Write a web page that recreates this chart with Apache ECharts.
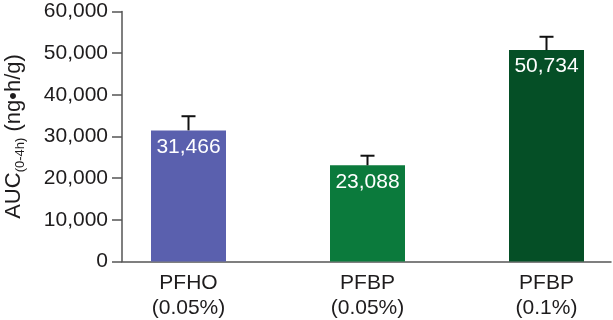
<!DOCTYPE html>
<html>
<head>
<meta charset="utf-8">
<script src="https://cdn.jsdelivr.net/npm/echarts@6/dist/echarts.min.js"></script>
<style>
	html, body { margin: 0; padding: 0; background: #fff; }
	#main { width: 613px; height: 320px; }
</style>
</head>
<body>
<div id="main"></div>
<script>
var categories = ['PFHO\n(0.05%)', 'PFBP\n(0.05%)', 'PFBP\n(0.1%)']
var aucValues = [31466, 23088, 50734]
var aucErrors = [3400, 2300, 3200]
var barColors = ['#5a60ae', '#0b7a3c', '#054f26']
var yTicks = { min: 0, max: 60000, interval: 10000 }

var font = 'Liberation Sans'
var textColor = '#1e1c1d'
var axisColor = '#555'

function fmt(v) {
	return Number(v).toLocaleString('en-US')
}

function drawAucChart(chartDom) {
	var myChart = echarts.init(chartDom)

	var barData = aucValues.map(function (v, i) {
		return { value: v, itemStyle: { color: barColors[i] } }
	})
	var errData = aucValues.map(function (v, i) {
		return [i, v, v + aucErrors[i]]
	})

	var option = {
		animation: false,
		grid: [
			// frame with the visible axes
			{ left: 122, right: 2, top: 11.5, bottom: 58.5, outerBoundsMode: 'none', containLabel: false },
			// bars sit in a wider grid so the category spacing matches
			{ left: 99, width: 537, top: 11.5, bottom: 58.5, outerBoundsMode: 'none', containLabel: false },
		],
		xAxis: [
			{
				gridIndex: 0,
				type: 'value',
				min: 0,
				max: 1,
				axisLine: { show: true, lineStyle: { color: axisColor, width: 1.5 } },
				axisTick: { show: false },
				axisLabel: { show: false },
				splitLine: { show: false },
			},
			{
				gridIndex: 1,
				type: 'category',
				data: categories,
				axisLine: { show: false },
				axisTick: { show: false },
				axisLabel: {
					margin: 9,
					color: textColor,
					fontFamily: font,
					fontSize: 21,
					lineHeight: 25,
				},
			},
		],
		yAxis: [
			{
				gridIndex: 0,
				type: 'value',
				min: yTicks.min,
				max: yTicks.max,
				interval: yTicks.interval,
				name: '{a|AUC}{s|(0-4h)}{a| (ng•h/g)}',
				nameLocation: 'middle',
				nameGap: 95,
				nameTextStyle: {
					rich: {
						a: { fontFamily: font, fontSize: 22, color: textColor, lineHeight: 24 },
						s: {
							fontFamily: font,
							fontSize: 13,
							color: textColor,
							verticalAlign: 'bottom',
							padding: [14, 0, 0, 0],
						},
					},
				},
				axisLine: { show: true, lineStyle: { color: axisColor, width: 1.5 } },
				axisTick: { show: true, length: 10, lineStyle: { color: axisColor, width: 1.5 } },
				axisLabel: {
					margin: 14,
					color: textColor,
					fontFamily: font,
					fontSize: 21,
					formatter: fmt,
				},
				splitLine: { show: false },
			},
			{
				gridIndex: 1,
				type: 'value',
				min: yTicks.min,
				max: yTicks.max,
				show: false,
			},
		],
		series: [
			{
				type: 'bar',
				xAxisIndex: 1,
				yAxisIndex: 1,
				barWidth: 75,
				data: barData,
				label: {
					show: true,
					position: 'insideTop',
					distance: 6,
					color: '#fff',
					fontFamily: font,
					fontSize: 21,
					formatter: function (p) {
						return fmt(p.value)
					},
				},
			},
			{
				type: 'custom',
				xAxisIndex: 1,
				yAxisIndex: 1,
				data: errData,
				z: 3,
				renderItem: function (params, api) {
					var low = api.coord([api.value(0), api.value(1)])
					var high = api.coord([api.value(0), api.value(2)])
					var half = 7
					var style = { stroke: '#111', lineWidth: 2 }
					return {
						type: 'group',
						children: [
							{
								type: 'line',
								shape: { x1: low[0], y1: low[1], x2: high[0], y2: high[1] },
								style: style,
							},
							{
								type: 'line',
								shape: { x1: high[0] - half, y1: high[1], x2: high[0] + half, y2: high[1] },
								style: style,
							},
						],
					}
				},
			},
		],
	}

	option && myChart.setOption(option)
}

drawAucChart(document.getElementById('main'))
</script>
</body>
</html>
